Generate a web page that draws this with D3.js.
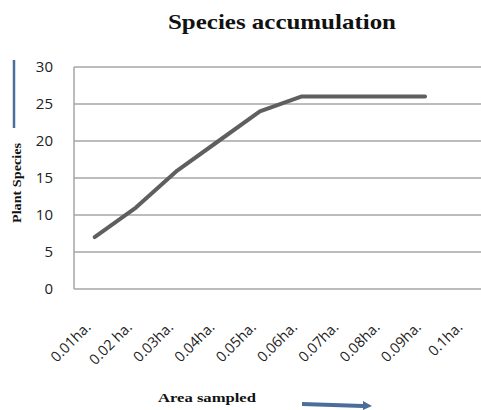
<!DOCTYPE html>
<html>
<head>
<meta charset="utf-8">
<script src="https://cdn.jsdelivr.net/npm/d3@7"></script>
<style>
  body { margin: 0; background: #fff; }
</style>
</head>
<body>
<svg width="481" height="410"></svg>
<script>
const areas   = ["0.01ha.", "0.02 ha.", "0.03ha.", "0.04ha.", "0.05ha.", "0.06ha.", "0.07ha.", "0.08ha.", "0.09ha.", "0.1ha."];
const species = [7, 11, 16, 20, 24, 26, 26, 26, 26, null];
const yTicks  = [0, 5, 10, 15, 20, 25, 30];

const svg = d3.select("svg");

const plotLeft = 74, plotTop = 67, plotBottom = 289;
const step = 41.3;

const x = d3.scalePoint()
  .domain(areas)
  .range([plotLeft + step / 2, plotLeft + step * (areas.length - 0.5)]);

const y = d3.scaleLinear()
  .domain([0, 30])
  .range([plotBottom, plotTop]);

// gridlines
svg.append("g")
  .selectAll("line")
  .data(yTicks)
  .join("line")
    .attr("x1", plotLeft)
    .attr("x2", plotLeft + step * areas.length)
    .attr("y1", d => y(d))
    .attr("y2", d => y(d))
    .attr("stroke", "#a6a6a6")
    .attr("stroke-width", 1.5);

svg.append("line")
  .attr("x1", plotLeft).attr("x2", plotLeft)
  .attr("y1", y(30)).attr("y2", y(0))
  .attr("stroke", "#a6a6a6")
  .attr("stroke-width", 1.5);

// y tick labels
svg.append("g")
  .selectAll("text")
  .data(yTicks)
  .join("text")
    .attr("x", 53)
    .attr("y", d => y(d))
    .attr("dy", "0.36em")
    .attr("text-anchor", "end")
    .attr("font-family", "Open Sans, sans-serif")
    .attr("font-size", 15)
    .attr("fill", "#222")
    .text(d => d);

// x tick labels
svg.append("g")
  .selectAll("text")
  .data(areas)
  .join("text")
    .attr("transform", d => `translate(${x(d) - 3},${328}) rotate(-45)`)
    .attr("text-anchor", "end")
    .attr("font-family", "Open Sans, sans-serif")
    .attr("font-size", 14.5)
    .attr("fill", "#222")
    .text(d => d);

// the line
const line = d3.line()
  .defined(d => d.v != null)
  .x(d => x(d.a))
  .y(d => y(d.v));

svg.append("path")
  .attr("d", line(areas.map((a, i) => ({ a: a, v: species[i] }))))
  .attr("fill", "none")
  .attr("stroke", "#5f5f5f")
  .attr("stroke-width", 4)
  .attr("stroke-linejoin", "round")
  .attr("stroke-linecap", "round");

// title
svg.append("text")
  .attr("x", 282)
  .attr("y", 29)
  .attr("text-anchor", "middle")
  .attr("font-family", "Liberation Serif, serif")
  .attr("font-weight", "bold")
  .attr("font-size", 21)
  .attr("textLength", 228)
  .attr("lengthAdjust", "spacingAndGlyphs")
  .attr("fill", "#111")
  .text("Species accumulation");

// y axis label + blue marker
svg.append("text")
  .attr("transform", "translate(21,183) rotate(-90)")
  .attr("text-anchor", "middle")
  .attr("font-family", "Liberation Serif, serif")
  .attr("font-weight", "bold")
  .attr("font-size", 12)
  .attr("textLength", 80)
  .attr("lengthAdjust", "spacingAndGlyphs")
  .attr("fill", "#111")
  .text("Plant Species");

svg.append("line")
  .attr("x1", 14).attr("x2", 14)
  .attr("y1", 60).attr("y2", 128)
  .attr("stroke", "#4a6d9c")
  .attr("stroke-width", 2.5);

// x axis label + blue arrow
svg.append("text")
  .attr("x", 207)
  .attr("y", 402)
  .attr("text-anchor", "middle")
  .attr("font-family", "Liberation Serif, serif")
  .attr("font-weight", "bold")
  .attr("font-size", 13)
  .attr("textLength", 98)
  .attr("lengthAdjust", "spacingAndGlyphs")
  .attr("fill", "#111")
  .text("Area sampled");

svg.append("path")
  .attr("d", "M302,402 L363,404 L363,401 L372,406 L363,410 L363,408 L302,406 Z")
  .attr("fill", "#4a6d9c");
</script>
</body>
</html>
